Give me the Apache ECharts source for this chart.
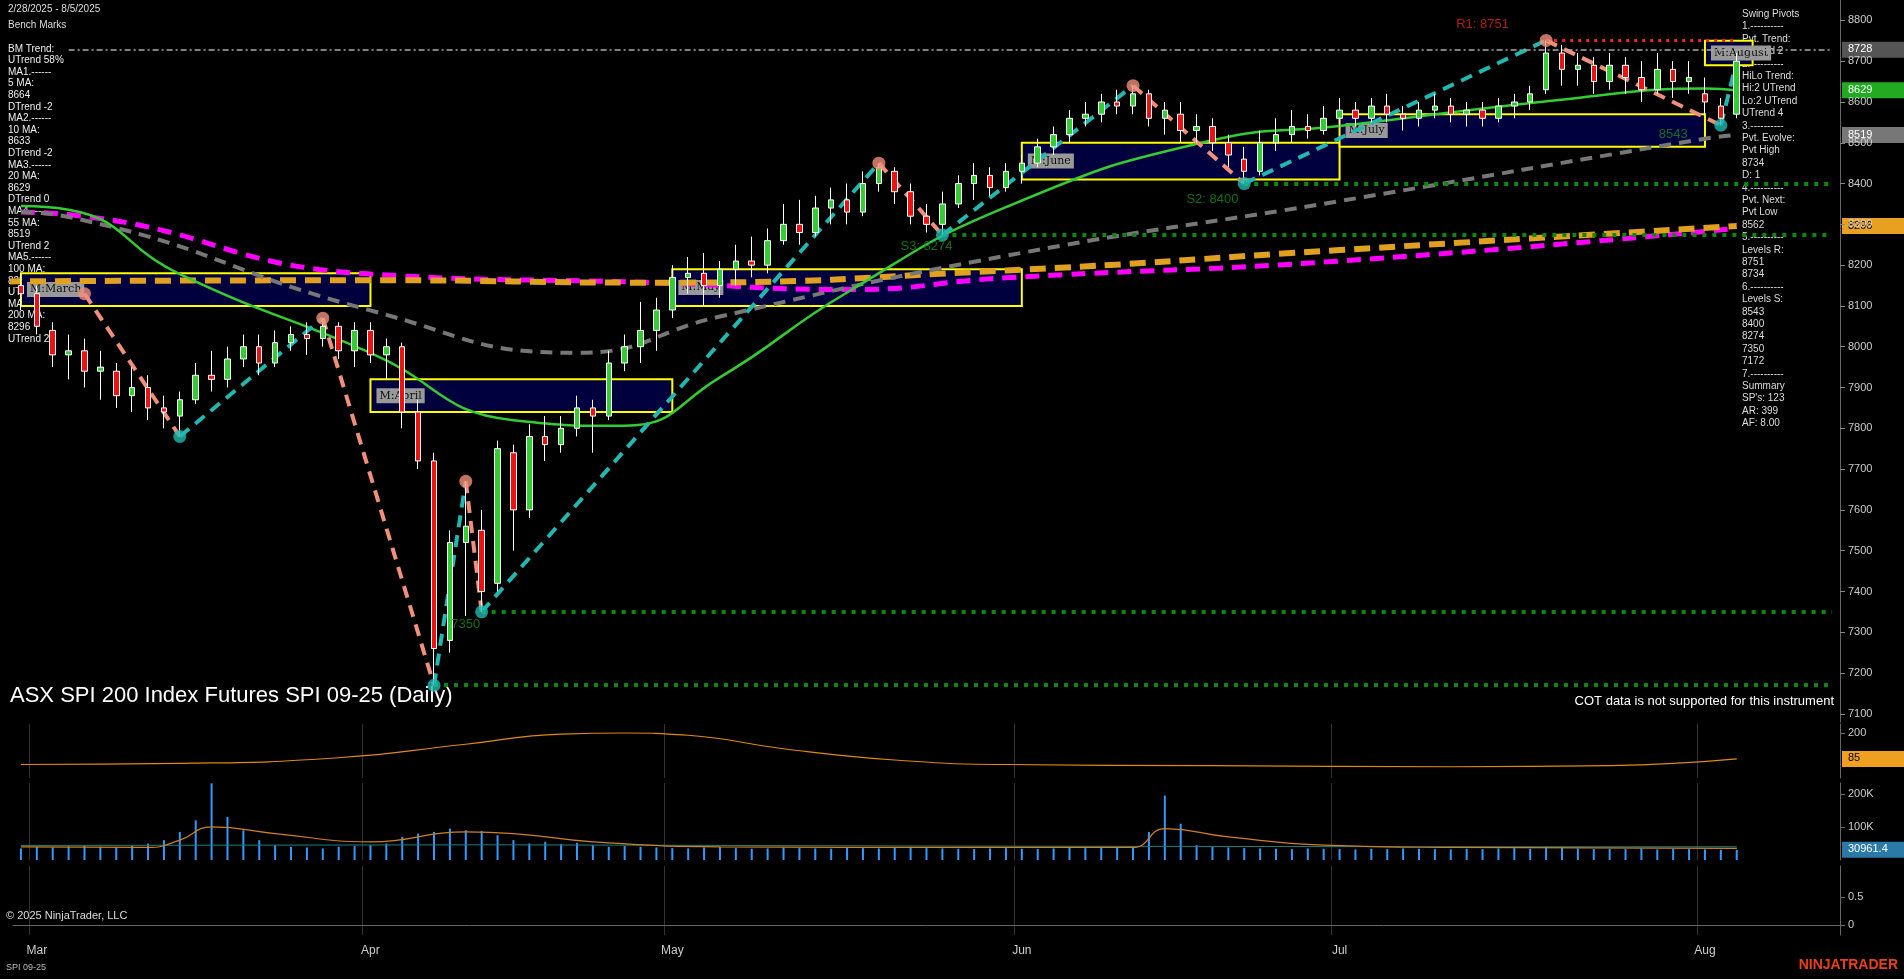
<!DOCTYPE html>
<html><head><meta charset="utf-8">
<script src="https://cdn.jsdelivr.net/npm/echarts@6/dist/echarts.min.js"></script>
<style>html,body{margin:0;padding:0;background:#000;}#c{width:1904px;height:979px;}</style>
</head><body><div id="c"></div>
<script>
const dates = ['2/28',
'3/3','3/4','3/5','3/6','3/7','3/10','3/11','3/12','3/13','3/14','3/17','3/18','3/19','3/20','3/21','3/24','3/25','3/26','3/27','3/28','3/31',
'4/1','4/2','4/3','4/4','4/7','4/8','4/9','4/10','4/11','4/14','4/15','4/16','4/17','4/22','4/23','4/24','4/28','4/29','4/30',
'5/1','5/2','5/5','5/6','5/7','5/8','5/9','5/12','5/13','5/14','5/15','5/16','5/19','5/20','5/21','5/22','5/23','5/26','5/27','5/28','5/29','5/30',
'6/2','6/3','6/4','6/5','6/6','6/10','6/11','6/12','6/13','6/16','6/17','6/18','6/19','6/20','6/23','6/24','6/25','6/26','6/27','6/30',
'7/1','7/2','7/3','7/4','7/7','7/8','7/9','7/10','7/11','7/14','7/15','7/16','7/17','7/18','7/21','7/22','7/23','7/24','7/25','7/28','7/29','7/30','7/31',
'8/1','8/4','8/5'];
const padSlots = ['','','','','',''];
const monthLabels = {'3/3':'Mar','4/1':'Apr','5/1':'May','6/2':'Jun','7/1':'Jul','8/1':'Aug'};
// [open, close, low, high]
const ohlc = [
[8150,8130,8090,8180],
[8130,8050,8030,8150],[8040,7980,7950,8060],[7980,7990,7920,8030],[7990,7940,7900,8020],[7940,7950,7870,7990],
[7940,7880,7850,7960],[7880,7900,7840,7950],[7900,7850,7820,7930],[7850,7840,7800,7880],[7830,7870,7780,7890],
[7870,7930,7860,7960],[7930,7920,7890,7990],[7920,7970,7900,8000],[7970,8000,7950,8030],[8000,7960,7930,8030],
[7960,8010,7950,8040],[8010,8030,7990,8050],[8030,8020,7980,8060],[8020,8050,8000,8070],[8050,7990,7970,8060],[7990,8040,7950,8060],
[8040,7980,7960,8060],[7980,8000,7920,8020],[8000,7840,7800,8010],[7840,7720,7700,7870],[7720,7260,7170,7740],
[7280,7520,7250,7550],[7520,7560,7340,7670],[7550,7400,7350,7600],[7420,7750,7400,7770],[7740,7600,7500,7760],
[7600,7780,7580,7810],[7780,7760,7720,7830],[7760,7800,7740,7830],[7800,7850,7780,7880],[7850,7830,7740,7870],
[7830,7960,7820,7990],[7960,8000,7940,8030],[8000,8040,7960,8110],[8040,8090,7990,8120],
[8090,8170,8070,8200],[8170,8180,8130,8220],[8180,8150,8100,8230],[8150,8190,8120,8210],[8190,8210,8150,8250],
[8210,8200,8170,8270],[8200,8260,8180,8290],[8260,8300,8250,8350],[8300,8280,8250,8360],[8280,8340,8270,8370],
[8340,8360,8300,8390],[8360,8330,8300,8400],[8330,8400,8320,8430],[8400,8440,8380,8450],[8430,8380,8350,8440],
[8380,8320,8300,8400],[8320,8300,8280,8350],[8300,8350,8274,8380],[8350,8400,8340,8420],[8400,8420,8360,8450],
[8420,8390,8370,8440],[8390,8430,8380,8450],
[8430,8450,8400,8470],[8450,8490,8440,8510],[8490,8520,8470,8540],[8520,8560,8500,8580],[8560,8570,8540,8600],
[8570,8600,8550,8620],[8600,8590,8570,8630],[8590,8620,8570,8640],[8620,8560,8540,8630],[8560,8580,8520,8600],
[8570,8530,8500,8600],[8530,8540,8500,8570],[8540,8500,8480,8560],[8500,8470,8440,8520],[8460,8430,8400,8490],
[8430,8500,8420,8530],[8500,8520,8480,8560],[8520,8540,8500,8580],[8540,8530,8510,8570],[8530,8560,8520,8590],
[8560,8580,8540,8610],[8580,8560,8540,8600],[8560,8590,8550,8610],[8590,8570,8550,8620],[8570,8560,8530,8590],
[8560,8580,8540,8600],[8580,8590,8560,8620],[8590,8570,8550,8610],[8570,8580,8540,8600],[8580,8560,8540,8600],
[8560,8590,8550,8610],[8590,8600,8560,8620],[8600,8620,8580,8640],[8630,8720,8620,8751],[8720,8680,8640,8740],
[8680,8690,8640,8720],[8690,8650,8620,8710],[8650,8690,8630,8720],[8690,8660,8620,8710],[8660,8630,8600,8700],
[8630,8680,8620,8720],[8680,8650,8610,8700],[8650,8660,8620,8700],
[8620,8600,8570,8660],[8590,8560,8543,8610],[8570,8700,8560,8720]];
const volumeK = [35,40,38,42,45,40,38,44,50,60, 85,120,232,130,90,60,45,40,38,35,
40,42,45,50,70,80,85,95,90,88, 75,60,50,55,48,52,45,40,42,40,
38,36,35,38,40,36,34,35,38,36, 35,34,37,36,35,38,40,36,35,34,
33,35,36,34,33,35,38,36,40,38, 40,85,195,110,45,40,38,36,35,34,
33,35,34,33,32,34,33,35,34,33, 32,34,33,35,36,34,40,38,35,33,
34,33,35,32,34,33,32,31,30.9614];
const volMA = [[0,40],[8,38],[10,60],[12,100],[16,80],[22,55],[28,85],[31,80],[36,55],[44,40],[60,38],[70,38],[72,95],[76,70],[82,45],[90,38],[108,35]];
const volAvg = [[0,44],[30,46],[60,42],[90,40],[108,40]];
const adx = [[0,60],[10,65],[20,90],[28,150],[34,195],[38,200],[42,190],[48,130],[55,80],[62,60],[75,55],[90,50],[100,55],[108,85]];
const ma20 = [[0,8345],[3,8336],[10,8178],[22,7985],[31,7820],[38,7806],[44,7925],[52,8133],[62,8342],[75,8506],[83,8541],[98,8610],[106,8633],[108,8629]];
const ma55 = [[0,8330],[3,8318],[22,8089],[35,7985],[44,8074],[62,8223],[83,8357],[106,8510],[108,8519]];
const ma100 = [[-1,8160],[22,8163],[40,8157],[62,8187],[83,8237],[108,8296]];
const ma200 = [[0,8330],[3,8324],[22,8178],[40,8157],[52,8140],[62,8169],[83,8210],[108,8290]];
const pivots = [[4,8130],[10,7780],[19,8070],[26,7170],[28,7670],[29,7350],[54,8450],[58,8274],[70,8640],[77,8400],[96,8751],[107,8543],[108,8700]];
const months = [['M:March',0,21,8100,8180],['M:April',22,40,7840,7920],['M:May',41,62,8100,8190],['M:June',63,82,8410,8500],['M:July',83,105,8490,8570],['M:August',106,108,8690,8750]];
const supports = [[8400,77,'S2: 8400'],[8274,58,'S3: 8274'],[7350,29,'7350'],[7172,26,'']];
const resistance = [8751,96,'R1: 8751'];
const refLine = 8728;
const badges = [[8728,'#555','#fff'],[8629,'#22aa22','#fff'],[8519,'#777','#fff'],[8296,'#e8a020','#000']];
const priceTicks = [7100,7200,7300,7400,7500,7600,7700,7800,7900,8000,8100,8200,8300,8400,8500,8600,8700,8800];

const cats = dates.concat(padSlots);
const firstIdx = new Set(dates.map((d,i)=>monthLabels[d]?i:-1).filter(i=>i>=0));
const leftText = ['BM Trend:','UTrend 58%','MA1.------','5 MA:','8664','DTrend -2','MA2.------','10 MA:','8633','DTrend -2','MA3.------','20 MA:','8629','DTrend 0','MA4.------','55 MA:','8519','UTrend 2','MA5.------','100 MA:','8284','UTrend 2','MA6.------','200 MA:','8296','UTrend 2'];
const rightText = ['Swing Pivots','1.----------','Pvt. Trend:','UTrend 2','2.----------','HiLo Trend:','Hi:2 UTrend','Lo:2 UTrend','UTrend 4','3.----------','Pvt. Evolve:','Pvt High','8734','D: 1','4.----------','Pvt. Next:','Pvt Low','8562','5.----------','Levels R:','8751','8734','6.----------','Levels S:','8543','8400','8274','7350','7172','7.----------','Summary','SP\'s: 123','AR: 399','AF: 8.00'];

const chart = echarts.init(document.getElementById('c'));
const F = 'Arial, Liberation Sans, sans-serif';
const grids = [
 {left:13,right:64,top:0,height:722},
 {left:13,right:64,top:724,height:54},
 {left:13,right:64,top:783,height:77},
 {left:13,right:64,top:866,height:69}];
const splitX = {show:true,interval:(i)=>firstIdx.has(i),lineStyle:{color:'#333',width:1}};
const xAxes = grids.map((g,k)=>({type:'category',gridIndex:k,data:cats,boundaryGap:true,
  axisLine:{show:k===3,lineStyle:{color:'#666'}},axisTick:{show:false},
  splitLine:k===0?{show:false}:splitX,
  axisLabel:k===3?{show:true,interval:0,color:'#ccc',fontFamily:F,fontSize:12,margin:10,formatter:(v)=>monthLabels[v]||''}:{show:false}}));
const yl = {color:'#ccc',fontFamily:F,fontSize:11,formatter:v=>String(v)};
const yAxes = [
 {type:'value',gridIndex:0,position:'right',min:7080,max:8850,axisLabel:Object.assign({},yl,{customValues:priceTicks}),axisTick:{show:true,customValues:priceTicks,lineStyle:{color:'#888'}},axisLine:{show:true,lineStyle:{color:'#666'}},splitLine:{show:false}},
 {type:'value',gridIndex:1,position:'right',min:0,max:240,axisLabel:Object.assign({},yl,{customValues:[200]}),axisTick:{show:true,customValues:[200]},axisLine:{show:true,lineStyle:{color:'#666'}},splitLine:{show:false}},
 {type:'value',gridIndex:2,position:'right',min:0,max:233,axisLabel:Object.assign({},yl,{customValues:[100,200],formatter:v=>v+'K'}),axisTick:{show:true,customValues:[100,200]},axisLine:{show:true,lineStyle:{color:'#666'}},splitLine:{show:false}},
 {type:'value',gridIndex:3,position:'right',min:-0.18,max:1.05,axisLabel:Object.assign({},yl,{customValues:[0,0.5]}),axisTick:{show:true,customValues:[0,0.5]},axisLine:{show:true,lineStyle:{color:'#666'}},splitLine:{show:false}}];

const legSeries = [];
for (let i=0;i<pivots.length-1;i++){
  const up = pivots[i+1][1] > pivots[i][1];
  legSeries.push({type:'line',xAxisIndex:0,yAxisIndex:0,data:[pivots[i],pivots[i+1]],symbol:'none',z:4,
    lineStyle:{color:up?'#20b8b0':'#f0907a',width:4,type:[12,8]}});
}
const pivotPts = {type:'scatter',xAxisIndex:0,yAxisIndex:0,symbolSize:13,z:6,
  data:pivots.slice(0,-1).map((p,i)=>{const hi = i===0 ? true : p[1]>pivots[i-1][1]; return {value:p,itemStyle:{color:hi?'#f0907a':'#20b8b0'}};})};

const markAreaData = months.map(m=>[{name:m[0],xAxis:m[1],yAxis:m[3]},{xAxis:m[2]+0.99,yAxis:m[4]}]);
const mlData = [];
supports.forEach(s=>{mlData.push([{xAxis:s[1],yAxis:s[0],lineStyle:{color:'#0a8a0a',type:[4,6],width:4},label:{show:false}},{xAxis:114,yAxis:s[0]}]);});
mlData.push([{xAxis:resistance[1],yAxis:resistance[0],lineStyle:{color:'#ee2222',type:[3,5],width:3},label:{show:false}},{xAxis:108,yAxis:resistance[0]}]);
mlData.push([{xAxis:3,yAxis:refLine,lineStyle:{color:'#aaa',type:[6,3,2,3],width:1.5},label:{show:false}},{xAxis:114,yAxis:refLine}]);

const labelSeries = {type:'scatter',xAxisIndex:0,yAxisIndex:0,symbolSize:0,z:7,
  data:[
   {value:[92,8790],label:{show:true,formatter:resistance[2],color:'#e02020',fontSize:13,fontFamily:F}},
   {value:[75,8360],label:{show:true,formatter:supports[0][2],color:'#1a8a1a',fontSize:13,fontFamily:F}},
   {value:[57,8245],label:{show:true,formatter:supports[1][2],color:'#1a8a1a',fontSize:13,fontFamily:F}},
   {value:[28,7320],label:{show:true,formatter:supports[2][2],color:'#1a8a1a',fontSize:13,fontFamily:F}},
   {value:[104,8520],label:{show:true,formatter:'8543',color:'#1a8a1a',fontSize:13,fontFamily:F}}]};

const option = {
 backgroundColor:'#000',animation:false,
 grid:grids,xAxis:xAxes,yAxis:yAxes,
 series:[
  {type:'candlestick',xAxisIndex:0,yAxisIndex:0,data:ohlc,barWidth:6,z:5,
   itemStyle:{color:'#33cc33',color0:'#ee1111',borderColor:'#fff',borderColor0:'#fff',borderWidth:1},
   markArea:{silent:true,z:1,itemStyle:{color:'#00003f',borderColor:'#ffff00',borderWidth:2},
     label:{show:true,position:'insideLeft',color:'#111',backgroundColor:'#999',padding:[2,3],fontFamily:'DejaVu Serif',fontSize:11,offset:[2,0]},
     data:markAreaData},
   markLine:{silent:true,symbol:'none',data:mlData}},
  {type:'line',xAxisIndex:0,yAxisIndex:0,data:ma200,symbol:'none',smooth:true,z:3,lineStyle:{color:'#ff00ff',width:5,type:[14,9]}},
  {type:'line',xAxisIndex:0,yAxisIndex:0,data:ma100,symbol:'none',smooth:true,z:3,lineStyle:{color:'#e0a020',width:6,type:[16,9]}},
  {type:'line',xAxisIndex:0,yAxisIndex:0,data:ma55,symbol:'none',smooth:true,z:3,lineStyle:{color:'#777',width:4,type:[12,8]}},
  {type:'line',xAxisIndex:0,yAxisIndex:0,data:ma20,symbol:'none',smooth:true,z:3,lineStyle:{color:'#33cc33',width:2.5}},
  ...legSeries, pivotPts, labelSeries,
  {type:'line',xAxisIndex:1,yAxisIndex:1,data:adx,symbol:'none',smooth:true,lineStyle:{color:'#e08a10',width:1.2}},
  {type:'bar',xAxisIndex:2,yAxisIndex:2,data:volumeK,barWidth:2,itemStyle:{color:'#3399ff'}},
  {type:'line',xAxisIndex:2,yAxisIndex:2,data:volAvg,symbol:'none',lineStyle:{color:'#1a8080',width:1}},
  {type:'line',xAxisIndex:2,yAxisIndex:2,data:volMA,symbol:'none',smooth:true,lineStyle:{color:'#d08020',width:1.2}}
 ]
};
chart.setOption(option);

const g = [];
g.push({type:'text',left:8,top:4,style:{text:'2/28/2025 - 8/5/2025',fill:'#ddd',font:'10px '+F}});
g.push({type:'text',left:8,top:20,style:{text:'Bench Marks',fill:'#ddd',font:'10px '+F}});
g.push({type:'text',left:8,top:43,style:{text:leftText.join('\n'),fill:'#eee',font:'10px '+F,lineHeight:11.6}});
g.push({type:'text',left:1742,top:8,style:{text:rightText.join('\n'),fill:'#ddd',font:'10px '+F,lineHeight:12.4}});
g.push({type:'text',left:10,top:685,style:{text:'ASX SPI 200 Index Futures SPI 09-25 (Daily)',fill:'#fff',font:'22px '+F}});
g.push({type:'text',right:70,top:695,style:{text:'COT data is not supported for this instrument',fill:'#fff',font:'13px '+F}});
g.push({type:'text',left:6,top:910,style:{text:'© 2025 NinjaTrader, LLC',fill:'#ddd',font:'11px '+F}});
g.push({type:'text',left:6,top:963,style:{text:'SPI 09-25',fill:'#bbb',font:'9px '+F}});
g.push({type:'text',right:6,top:958,style:{text:'NINJATRADER',fill:'#e8401a',font:'bold 14px '+F}});
badges.forEach(b=>{const y = chart.convertToPixel({yAxisIndex:0},b[0]);
  g.push({type:'rect',left:1842,top:y-8,shape:{width:62,height:16},style:{fill:b[1]}});
  g.push({type:'text',left:1848,top:y-6,style:{text:String(b[0]),fill:b[2],font:'11px '+F}});});
const ya = chart.convertToPixel({yAxisIndex:1},adx[adx.length-1][1]);
g.push({type:'rect',left:1842,top:ya-8,shape:{width:62,height:16},style:{fill:'#f0a020'}});
g.push({type:'text',left:1848,top:ya-6,style:{text:String(adx[adx.length-1][1]),fill:'#000',font:'11px '+F}});
const yv = chart.convertToPixel({yAxisIndex:2},volumeK[volumeK.length-1]);
g.push({type:'rect',left:1842,top:yv-8,shape:{width:62,height:16},style:{fill:'#2a7aa8'}});
g.push({type:'text',left:1848,top:yv-6,style:{text:(volumeK[volumeK.length-1]*1000).toFixed(1),fill:'#fff',font:'11px '+F}});
chart.setOption({graphic:g});
</script></body></html>
